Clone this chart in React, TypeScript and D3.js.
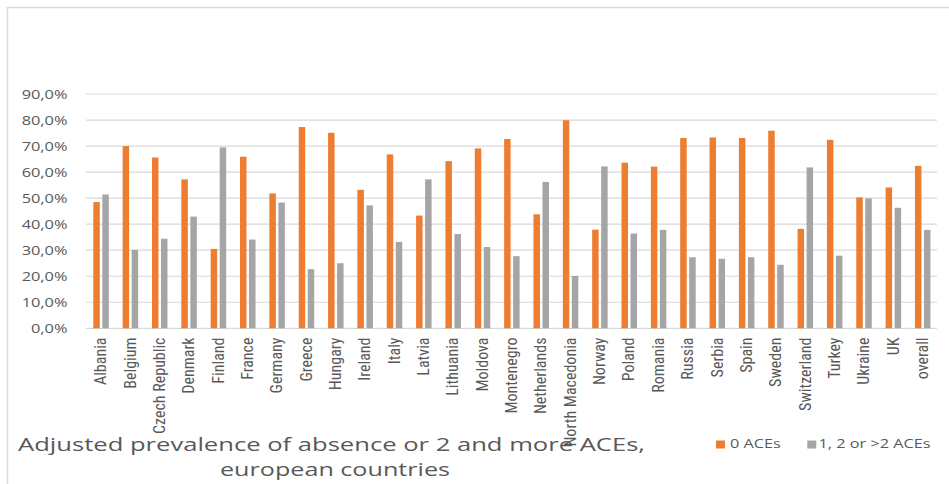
import React from "react";
import * as d3 from "d3";

const countries = [
  "Albania", "Belgium", "Czech Republic", "Denmark", "Finland", "France", "Germany",
  "Greece", "Hungary", "Ireland", "Italy", "Latvia", "Lithuania", "Moldova",
  "Montenegro", "Netherlands", "North Macedonia", "Norway", "Poland", "Romania",
  "Russia", "Serbia", "Spain", "Sweden", "Switzerland", "Turkey", "Ukraine", "UK", "overall",
];

const zeroAces = [
  48.5, 70.0, 65.6, 57.2, 30.5, 65.9, 51.8, 77.3, 75.1, 53.2, 66.8, 43.3, 64.2, 69.1,
  72.7, 43.8, 79.9, 37.9, 63.6, 62.1, 73.1, 73.3, 73.1, 75.9, 38.2, 72.4, 50.3, 54.1, 62.4,
];

const oneOrMoreAces = [
  51.4, 30.1, 34.4, 42.9, 69.5, 34.1, 48.3, 22.7, 25.0, 47.2, 33.2, 57.2, 36.2, 31.2,
  27.7, 56.2, 20.1, 62.2, 36.4, 37.8, 27.3, 26.7, 27.3, 24.4, 61.8, 27.9, 49.9, 46.3, 37.8,
];

const seriesNames = ["0 ACEs", "1, 2 or >2 ACEs"];
const seriesColors = ["#ED7D31", "#A5A5A5"];
const yTicks = [0, 10, 20, 30, 40, 50, 60, 70, 80, 90];
const titleLines = ["Adjusted prevalence of absence or 2 and more ACEs,", "european countries"];

const W = 949;
const H = 484;
const plotLeft = 86;
const plotRight = 937;
const plotTop = 94;
const plotBottom = 328.3;
const textColor = "#595959";
const gridColor = "#D9D9D9";
const sansFont = "'Open Sans', 'DejaVu Sans', sans-serif";

export default function App() {
  const x = d3.scaleBand<string>().domain(countries).range([plotLeft, plotRight]).paddingInner(0).paddingOuter(0);
  const inner = d3
    .scaleBand<string>()
    .domain(seriesNames)
    .range([7.3, 22.8])
    .paddingInner(0.28);
  const y = d3.scaleLinear().domain([0, 90]).range([plotBottom, plotTop]);
  const fmt = (v: number) => v.toFixed(1).replace(".", ",") + "%";
  const series = [zeroAces, oneOrMoreAces];

  return (
    <svg
      width={W}
      height={H}
      style={{ position: "absolute", left: 0, top: 0, background: "#fff" }}
    >
      <rect x={0} y={0} width={W} height={H} fill="#fff" />
      {/* chart frame */}
      <path d={`M7.5,${H} L7.5,7.5 L${W},7.5`} fill="none" stroke="#D9D9D9" strokeWidth={1.5} />

      {/* gridlines */}
      {yTicks.map((t) => (
        <line
          key={"g" + t}
          x1={plotLeft}
          x2={plotRight}
          y1={y(t)}
          y2={y(t)}
          stroke={gridColor}
          strokeWidth={1.2}
        />
      ))}

      {/* y labels */}
      {yTicks.map((t) => (
        <g key={"yl" + t} transform={`translate(67.5,${y(t) + 4.6}) scale(1.3,1)`}>
          <text x={0} y={0} textAnchor="end" fontFamily={sansFont} fontSize={12.6} fill={textColor}>
            {fmt(t)}
          </text>
        </g>
      ))}

      {/* bars */}
      {series.map((vals, si) =>
        vals.map((v, i) => (
          <rect
            key={`b${si}-${i}`}
            x={(x(countries[i]) as number) + (inner(seriesNames[si]) as number)}
            y={y(v)}
            width={inner.bandwidth()}
            height={y(0) - y(v)}
            fill={seriesColors[si]}
          />
        ))
      )}

      {/* x labels */}
      {countries.map((c) => {
        const cx = (x(c) as number) + x.bandwidth() / 2 + 5.6;
        return (
          <text
            key={"xl" + c}
            transform={`translate(${cx},337.5) rotate(-90)`}
            textAnchor="end"
            fontFamily="'Liberation Sans Narrow', 'Arial Narrow', 'Roboto Condensed', sans-serif"
            fontSize={16}
            fill={textColor}
          >
            {c}
          </text>
        );
      })}

      {/* title */}
      <text
        x={331.5}
        y={451}
        textAnchor="middle"
        fontFamily={sansFont}
        fontSize={19}
        fill={textColor}
        textLength={627}
        lengthAdjust="spacingAndGlyphs"
      >
        {titleLines[0]}
      </text>
      <text
        x={335}
        y={476}
        textAnchor="middle"
        fontFamily={sansFont}
        fontSize={19}
        fill={textColor}
        textLength={230}
        lengthAdjust="spacingAndGlyphs"
      >
        {titleLines[1]}
      </text>

      {/* legend */}
      <rect x={716} y={440.5} width={9} height={8} fill={seriesColors[0]} />
      <text
        x={730}
        y={448.3}
        fontFamily={sansFont}
        fontSize={11.8}
        fill={textColor}
        textLength={50.7}
        lengthAdjust="spacingAndGlyphs"
      >
        {seriesNames[0]}
      </text>
      <rect x={807.3} y={440.5} width={9} height={8} fill={seriesColors[1]} />
      <text
        x={818.5}
        y={448.3}
        fontFamily={sansFont}
        fontSize={11.8}
        fill={textColor}
        textLength={112}
        lengthAdjust="spacingAndGlyphs"
      >
        {seriesNames[1]}
      </text>
    </svg>
  );
}
